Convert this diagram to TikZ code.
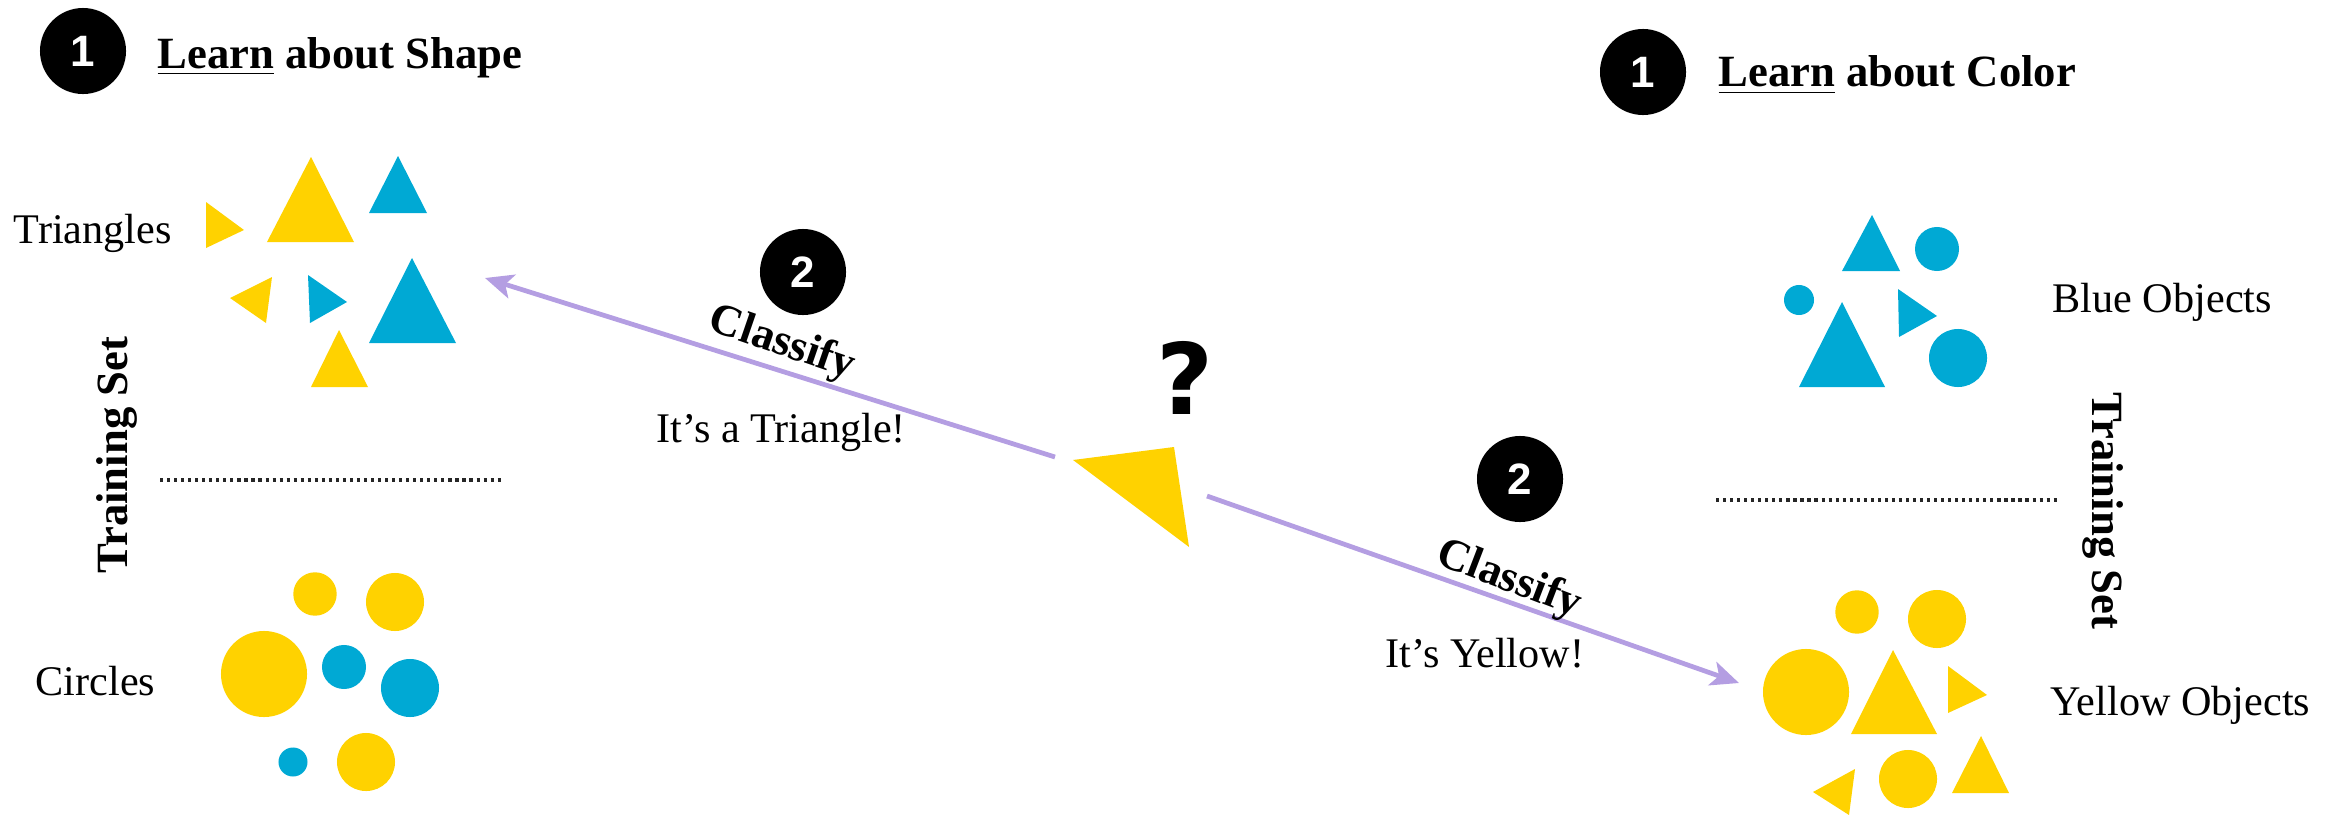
\documentclass[tikz,border=0pt]{standalone}
\usepackage{fontspec}
\setmainfont{Liberation Serif}
\newfontfamily\numfont{Liberation Sans}
\newfontfamily\qfont{DejaVu Sans}
\usetikzlibrary{arrows.meta}
\definecolor{yelc}{RGB}{255,210,0}
\definecolor{bluc}{RGB}{0,169,212}
\definecolor{arrc}{RGB}{180,158,226}
\tikzset{
  yel/.style={fill=yelc},
  blu/.style={fill=bluc},
  numc/.style={circle, fill=black, minimum size=0.86cm, inner sep=0pt, text=white,
    font=\numfont\bfseries\fontsize{12.5}{14}\selectfont},
  lab/.style={inner sep=0pt, anchor=base west, font=\fontsize{12}{14}\selectfont},
  ttl/.style={inner sep=0pt, anchor=base west, font=\bfseries\fontsize{12.7}{15}\selectfont},
  cls/.style={inner sep=0pt, font=\bfseries\fontsize{12.7}{15}\selectfont},
  tset/.style={inner sep=0pt, anchor=base, font=\bfseries\fontsize{12.7}{15}\selectfont},
  arr/.style={draw=arrc, line width=1.35pt, -{Stealth[length=8pt,width=7pt,inset=2pt]}},
  dotline/.style={draw=black!85, line width=0.9pt, dash pattern=on 0.9pt off 1.1pt}
}
\begin{document}
\begin{tikzpicture}[x=0.01cm,y=-0.01cm]
\useasboundingbox (0,0) rectangle (2351,815);

% ---------- left panel ----------
\node[numc] (n1l) at (83,51) {1};
\node[ttl] (tl) at (157,68) {\underline{Learn} about Shape};
\node[lab] (tri) at (13,243) {Triangles};
\node[lab] (cir) at (35,695) {Circles};
\node[tset, rotate=90] (tsl) at (127,455) {Training Set};
\coordinate (dl1) at (160,480);
\coordinate (dl2) at (503,480);
\draw[dotline] (dl1) -- (dl2);

\fill[yel] (206,202) -- (206,248) -- (244,230) -- cycle;
\fill[yel] (311,157) -- (267,242) -- (354,242) -- cycle;
\fill[blu] (398,156) -- (369,213) -- (427,213) -- cycle;
\fill[yel] (272,277) -- (230,298) -- (266,323) -- cycle;
\fill[blu] (308,275) -- (310,323) -- (347,302) -- cycle;
\fill[blu] (412,258) -- (369,343) -- (456,343) -- cycle;
\fill[yel] (339,330) -- (311,387) -- (368,387) -- cycle;

\fill[yel] (315,594) circle[radius=0.217cm];
\fill[yel] (395,602) circle[radius=0.29cm];
\fill[yel] (264,674) circle[radius=0.43cm];
\fill[blu] (344,667) circle[radius=0.22cm];
\fill[blu] (410,688) circle[radius=0.29cm];
\fill[blu] (293,762) circle[radius=0.145cm];
\fill[yel] (366,762) circle[radius=0.29cm];

% ---------- middle ----------
\fill[yel] (1073,460) -- (1174,447) -- (1189,547) -- cycle;
\node[inner sep=0pt, font=\qfont\bfseries\fontsize{28}{30}\selectfont] (q) at (1185,378) {?};

\coordinate (a1s) at (1055,457);
\coordinate (a1e) at (485,278);
\draw[arr] (a1s) -- (a1e);
\node[numc] (n2l) at (803,272) {2};
\node[cls, rotate=-19] (cl) at (782,344) {Classify};
\node[lab] (itt) at (656,442) {It’s a Triangle!};

\coordinate (a2s) at (1207,496);
\coordinate (a2e) at (1739,683);
\draw[arr] (a2s) -- (a2e);
\node[numc] (n2r) at (1520,479) {2};
\node[cls, rotate=-21] (cr) at (1509,580) {Classify};
\node[lab] (ity) at (1385,667) {It’s Yellow!};

% ---------- right panel ----------
\node[numc] (n1r) at (1643,72) {1};
\node[ttl] (tr) at (1718,87) {\underline{Learn} about Color};
\node[lab] (bo) at (2052,312) {Blue Objects};
\node[lab] (yo) at (2050,715) {Yellow Objects};
\node[tset, rotate=-90] (tsr) at (2092,511) {Training Set};
\coordinate (dr1) at (1716,500);
\coordinate (dr2) at (2059,500);
\draw[dotline] (dr1) -- (dr2);

\fill[blu] (1872,215) -- (1842,271) -- (1900,271) -- cycle;
\fill[blu] (1842,302) -- (1799,387) -- (1885,387) -- cycle;
\fill[blu] (1898,289) -- (1899,337) -- (1937,316) -- cycle;
\fill[blu] (1937,249) circle[radius=0.22cm];
\fill[blu] (1799,300) circle[radius=0.15cm];
\fill[blu] (1958,358) circle[radius=0.29cm];

\fill[yel] (1857,612) circle[radius=0.217cm];
\fill[yel] (1937,619) circle[radius=0.29cm];
\fill[yel] (1806,692) circle[radius=0.43cm];
\fill[yel] (1908,779) circle[radius=0.29cm];
\fill[yel] (1893,650) -- (1851,734) -- (1937,734) -- cycle;
\fill[yel] (1948,666) -- (1948,713) -- (1987,695) -- cycle;
\fill[yel] (1855,769) -- (1813,792) -- (1849,815) -- cycle;
\fill[yel] (1981,736) -- (1952,793) -- (2009,793) -- cycle;
\end{tikzpicture}
\end{document}
